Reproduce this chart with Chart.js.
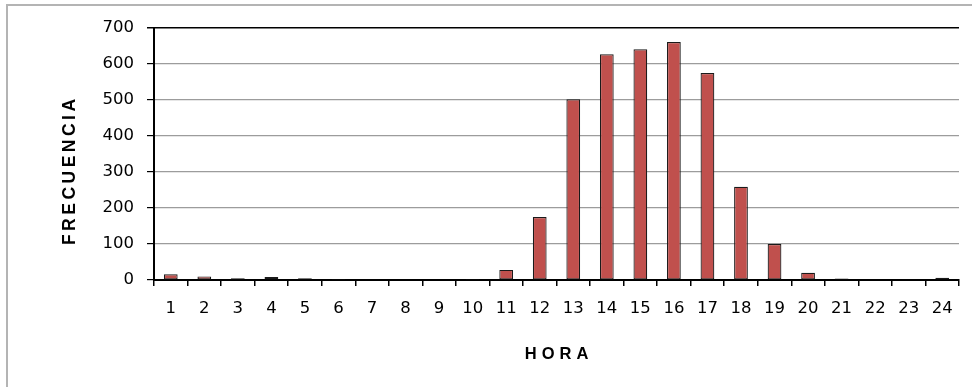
<!DOCTYPE html>
<html>
<head>
<meta charset="utf-8">
<script src="https://cdn.jsdelivr.net/npm/chart.js@4"></script>
<style>
  html, body { margin: 0; padding: 0; background: #ffffff; overflow: hidden; }
  #wrap { position: relative; width: 972px; height: 387px; }
  #frame { position: absolute; left: 6px; top: 4px; width: 980px; height: 400px;
           border: 2px solid #b4b4b4; box-sizing: border-box; }
  canvas { position: absolute; left: 0; top: 0; }
</style>
</head>
<body>
<div id="wrap">
  <div id="frame"></div>
  <canvas id="chart" width="972" height="387"></canvas>
</div>
<script>
// Hourly frequency counts
const horas = ['1','2','3','4','5','6','7','8','9','10','11','12',
               '13','14','15','16','17','18','19','20','21','22','23','24'];
const frecuencia = [16, 10, 5, 8, 5, 3, 1, 2, 0, 3, 28, 175,
                    502, 627, 641, 661, 575, 259, 100, 20, 4, 2, 1, 6];
const yTicks = [0, 100, 200, 300, 400, 500, 600, 700];
const tituloX = 'HORA';
const tituloY = 'FRECUENCIA';

const tickFont = { family: 'DejaVu Sans', size: 16.5 };

// Spaced, bold axis titles drawn around the plot area
const axisTitles = {
  id: 'axisTitles',
  afterDraw(chart) {
    const { ctx, chartArea } = chart;
    ctx.save();
    ctx.fillStyle = '#000000';
    ctx.textAlign = 'center';
    ctx.textBaseline = 'middle';
    ctx.font = 'bold 16.5px "Liberation Sans"';
    if ('letterSpacing' in ctx) ctx.letterSpacing = '5px';
    // horizontal title under the hour labels
    const cx = (chartArea.left + chartArea.right) / 2 + 2.5;
    ctx.fillText(tituloX, cx, chartArea.bottom + 74);
    // vertical title left of the value labels
    ctx.translate(chartArea.left - 84, chartArea.top + 144);
    ctx.rotate(-Math.PI / 2);
    ctx.font = 'bold 17.5px "Liberation Sans"';
    if ('letterSpacing' in ctx) ctx.letterSpacing = '3.5px';
    ctx.fillText(tituloY, 1.75, 0);
    ctx.restore();
  }
};

new Chart(document.getElementById('chart'), {
  type: 'bar',
  data: {
    labels: horas,
    datasets: [{
      data: frecuencia,
      backgroundColor: '#c0504d',
      borderColor: '#1a1a1a',
      borderWidth: 1.2,
      borderSkipped: false,
      barPercentage: 0.41,
      categoryPercentage: 1
    }]
  },
  plugins: [axisTitles],
  options: {
    responsive: false,
    animation: false,
    events: [],
    layout: { padding: { left: 0, top: 28, right: 13, bottom: 0 } },
    plugins: { legend: { display: false }, tooltip: { enabled: false } },
    scales: {
      x: {
        offset: true,
        grid: {
          offset: true,
          drawOnChartArea: true,
          color: (ctx) => (ctx.index === horas.length ? '#000000' : 'rgba(0,0,0,0)'),
          tickColor: '#000000',
          tickLength: 6,
          lineWidth: 1.5
        },
        border: { display: true, color: '#000000', width: 2 },
        ticks: { color: '#000000', font: tickFont, padding: 13, maxRotation: 0, autoSkip: false },
        afterFit: (scale) => { scale.height = 107; }
      },
      y: {
        min: 0, max: 700,
        afterBuildTicks: (scale) => { scale.ticks = yTicks.map(v => ({ value: v })); },
        grid: {
          color: (ctx) => (ctx.tick && ctx.tick.value === 700 ? '#000000' : '#9c9c9c'),
          lineWidth: (ctx) => (ctx.tick && ctx.tick.value === 700 ? 1.5 : 1.2),
          tickColor: '#000000',
          tickLength: 7
        },
        border: { display: true, color: '#000000', width: 2 },
        ticks: { color: '#000000', font: tickFont, padding: 13 },
        afterFit: (scale) => { scale.width = 154; }
      }
    }
  }
});
</script>
</body>
</html>
